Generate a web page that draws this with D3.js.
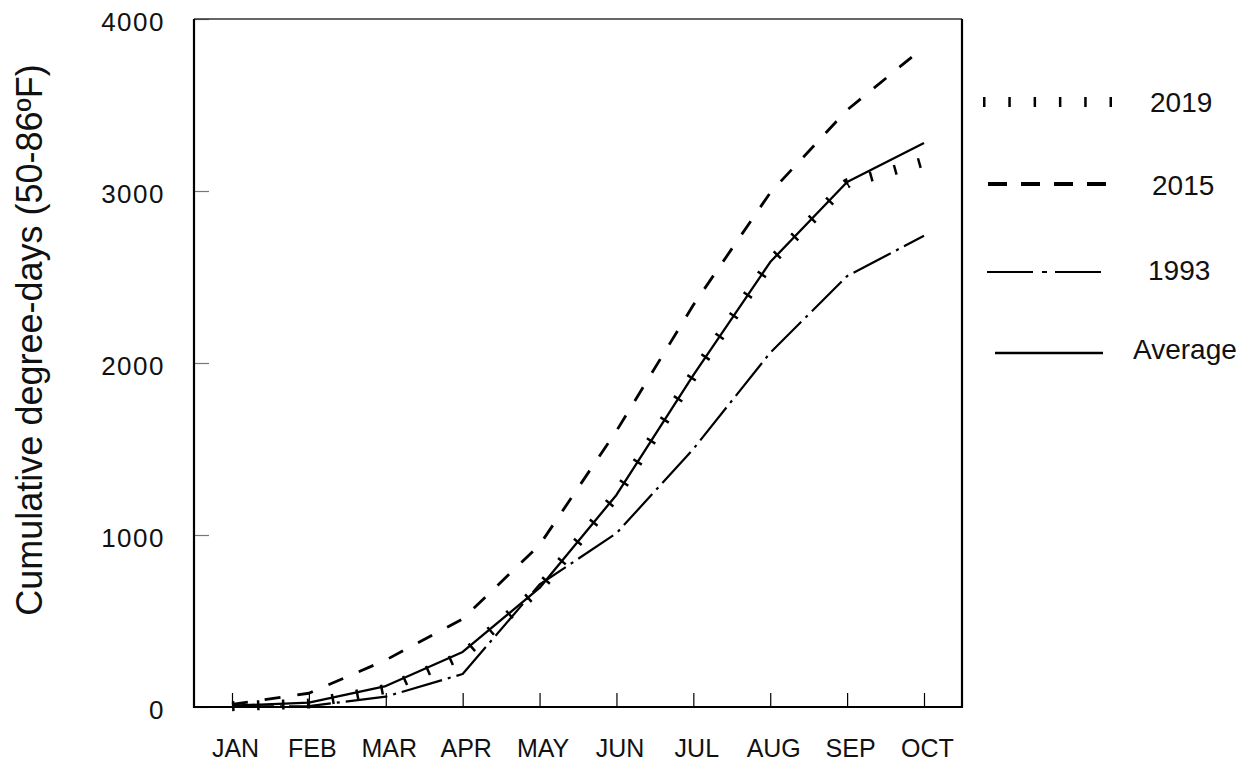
<!DOCTYPE html>
<html>
<head>
<meta charset="utf-8">
<script src="https://cdn.jsdelivr.net/npm/d3@7"></script>
<style>
  body { margin: 0; background: #fff; }
  svg { display: block; font-family: "Liberation Sans", Arial, sans-serif; }
</style>
</head>
<body>
<div id="chart"></div>
<script>
// DATA ------------------------------------------------------------------
const months = ["JAN", "FEB", "MAR", "APR", "MAY", "JUN", "JUL", "AUG", "SEP", "OCT"];
const yTicks = [0, 1000, 2000, 3000, 4000];

const series2019 = [5, 20, 105, 300, 690, 1233, 1930, 2587, 3045, 3170];
const series2015 = [15, 80, 273, 512, 942, 1605, 2337, 2990, 3471, 3837];
const series1993 = [3, 5, 60, 192, 712, 1010, 1500, 2060, 2505, 2740];
const seriesAvg  = [8, 25, 122, 320, 692, 1233, 1930, 2587, 3052, 3279];

// CHART INIT ------------------------------------------------------------
const width = 1253, height = 762;
const frame = {left: 194, right: 962, top: 19, bottom: 707};

const svg = d3.select('#chart')
  .append('svg')
  .attr('width', width)
  .attr('height', height);

const xScale = d3.scalePoint()
  .domain(months)
  .range([232, 924]);

const yScale = d3.scaleLinear()
  .domain([0, 4000])
  .range([frame.bottom, frame.top]);

// line styles for every series
const styles = {
  '2019':    {width: 10, dash: '2.5,22.5', data: series2019},
  '2015':    {width: 2.8, dash: '16,17', data: series2015},
  '1993':    {width: 2.2, dash: '42,6,3,6', data: series1993},
  'Average': {width: 2.3, dash: null, data: seriesAvg}
};

// axes
const yAxis = d3.axisLeft(yScale)
  .tickValues(yTicks)
  .tickFormat(d3.format('d'))
  .tickSizeInner(-15)
  .tickSizeOuter(0);

const xAxis = d3.axisBottom(xScale)
  .tickSizeInner(-14)
  .tickSizeOuter(0);

const gy = svg.append('g')
  .attr('class', 'axis y-axis')
  .attr('transform', 'translate(' + frame.left + ',0)')
  .call(yAxis);

gy.select('.domain').remove();
gy.selectAll('.tick line').attr('stroke', '#777').attr('stroke-width', 1.2);
gy.selectAll('.tick text')
  .attr('x', -29)
  .attr('dy', '0.45em')
  .attr('font-size', 26)
  .attr('letter-spacing', 1.5)
  .attr('fill', '#111')
  .attr('font-family', '"Liberation Sans", Arial, sans-serif');

const gx = svg.append('g')
  .attr('class', 'axis x-axis')
  .attr('transform', 'translate(0,' + frame.bottom + ')')
  .call(xAxis);

gx.select('.domain').remove();
gx.selectAll('.tick line').attr('stroke', '#000').attr('stroke-width', 1.2);
gx.selectAll('.tick text')
  .attr('x', 3)
  .attr('y', 50)
  .attr('dy', null)
  .attr('font-size', 25)
  .attr('fill', '#111')
  .attr('font-family', '"Liberation Sans", Arial, sans-serif');

// frame around plot
svg.append('line')
  .attr('x1', frame.left).attr('x2', frame.right)
  .attr('y1', frame.top).attr('y2', frame.top)
  .attr('stroke', '#333').attr('stroke-width', 1.5);
svg.append('path')
  .attr('d', 'M' + frame.left + ',' + frame.top + 'V' + frame.bottom + 'H' + frame.right + 'V' + frame.top)
  .attr('fill', 'none')
  .attr('stroke', '#000')
  .attr('stroke-width', 2.2);

// series lines
const line = d3.line()
  .x((d, i) => xScale(months[i]))
  .y(d => yScale(d));

['Average', '1993', '2015', '2019'].forEach(key => {
  const s = styles[key];
  svg.append('path')
    .datum(s.data)
    .attr('class', 'series s' + key)
    .attr('fill', 'none')
    .attr('stroke', '#000')
    .attr('stroke-width', s.width)
    .attr('stroke-dasharray', s.dash)
    .attr('stroke-linecap', 'butt')
    .attr('stroke-linejoin', 'round')
    .attr('d', line);
});

// y label
svg.append('text')
  .attr('transform', 'translate(42,340) rotate(-90)')
  .attr('text-anchor', 'middle')
  .attr('font-size', 36)
  .attr('fill', '#111')
  .text('Cumulative degree-days (50-86ºF)');

// legend
const legend = [
  {key: '2019', x1: 983, x2: 1112, y: 102, tx: 1150, ty: 112, width: 10, dash: '2.5,22.8'},
  {key: '2015', x1: 988, x2: 1106, y: 184, tx: 1152, ty: 195, width: 4, dash: '19,14'},
  {key: '1993', x1: 987, x2: 1102, y: 272, tx: 1148, ty: 280, width: 2.2, dash: '46,9,5,8'},
  {key: 'Average', x1: 995, x2: 1103, y: 353, tx: 1133, ty: 359, width: 2.3, dash: null}
];

const lg = svg.append('g').attr('class', 'legend');
lg.selectAll('line')
  .data(legend)
  .join('line')
  .attr('x1', d => d.x1).attr('x2', d => d.x2)
  .attr('y1', d => d.y).attr('y2', d => d.y)
  .attr('stroke', '#000')
  .attr('stroke-width', d => d.width)
  .attr('stroke-dasharray', d => d.dash);
lg.selectAll('text')
  .data(legend)
  .join('text')
  .attr('x', d => d.tx)
  .attr('y', d => d.ty)
  .attr('font-size', 28)
  .attr('fill', '#111')
  .text(d => d.key);
</script>
</body>
</html>
